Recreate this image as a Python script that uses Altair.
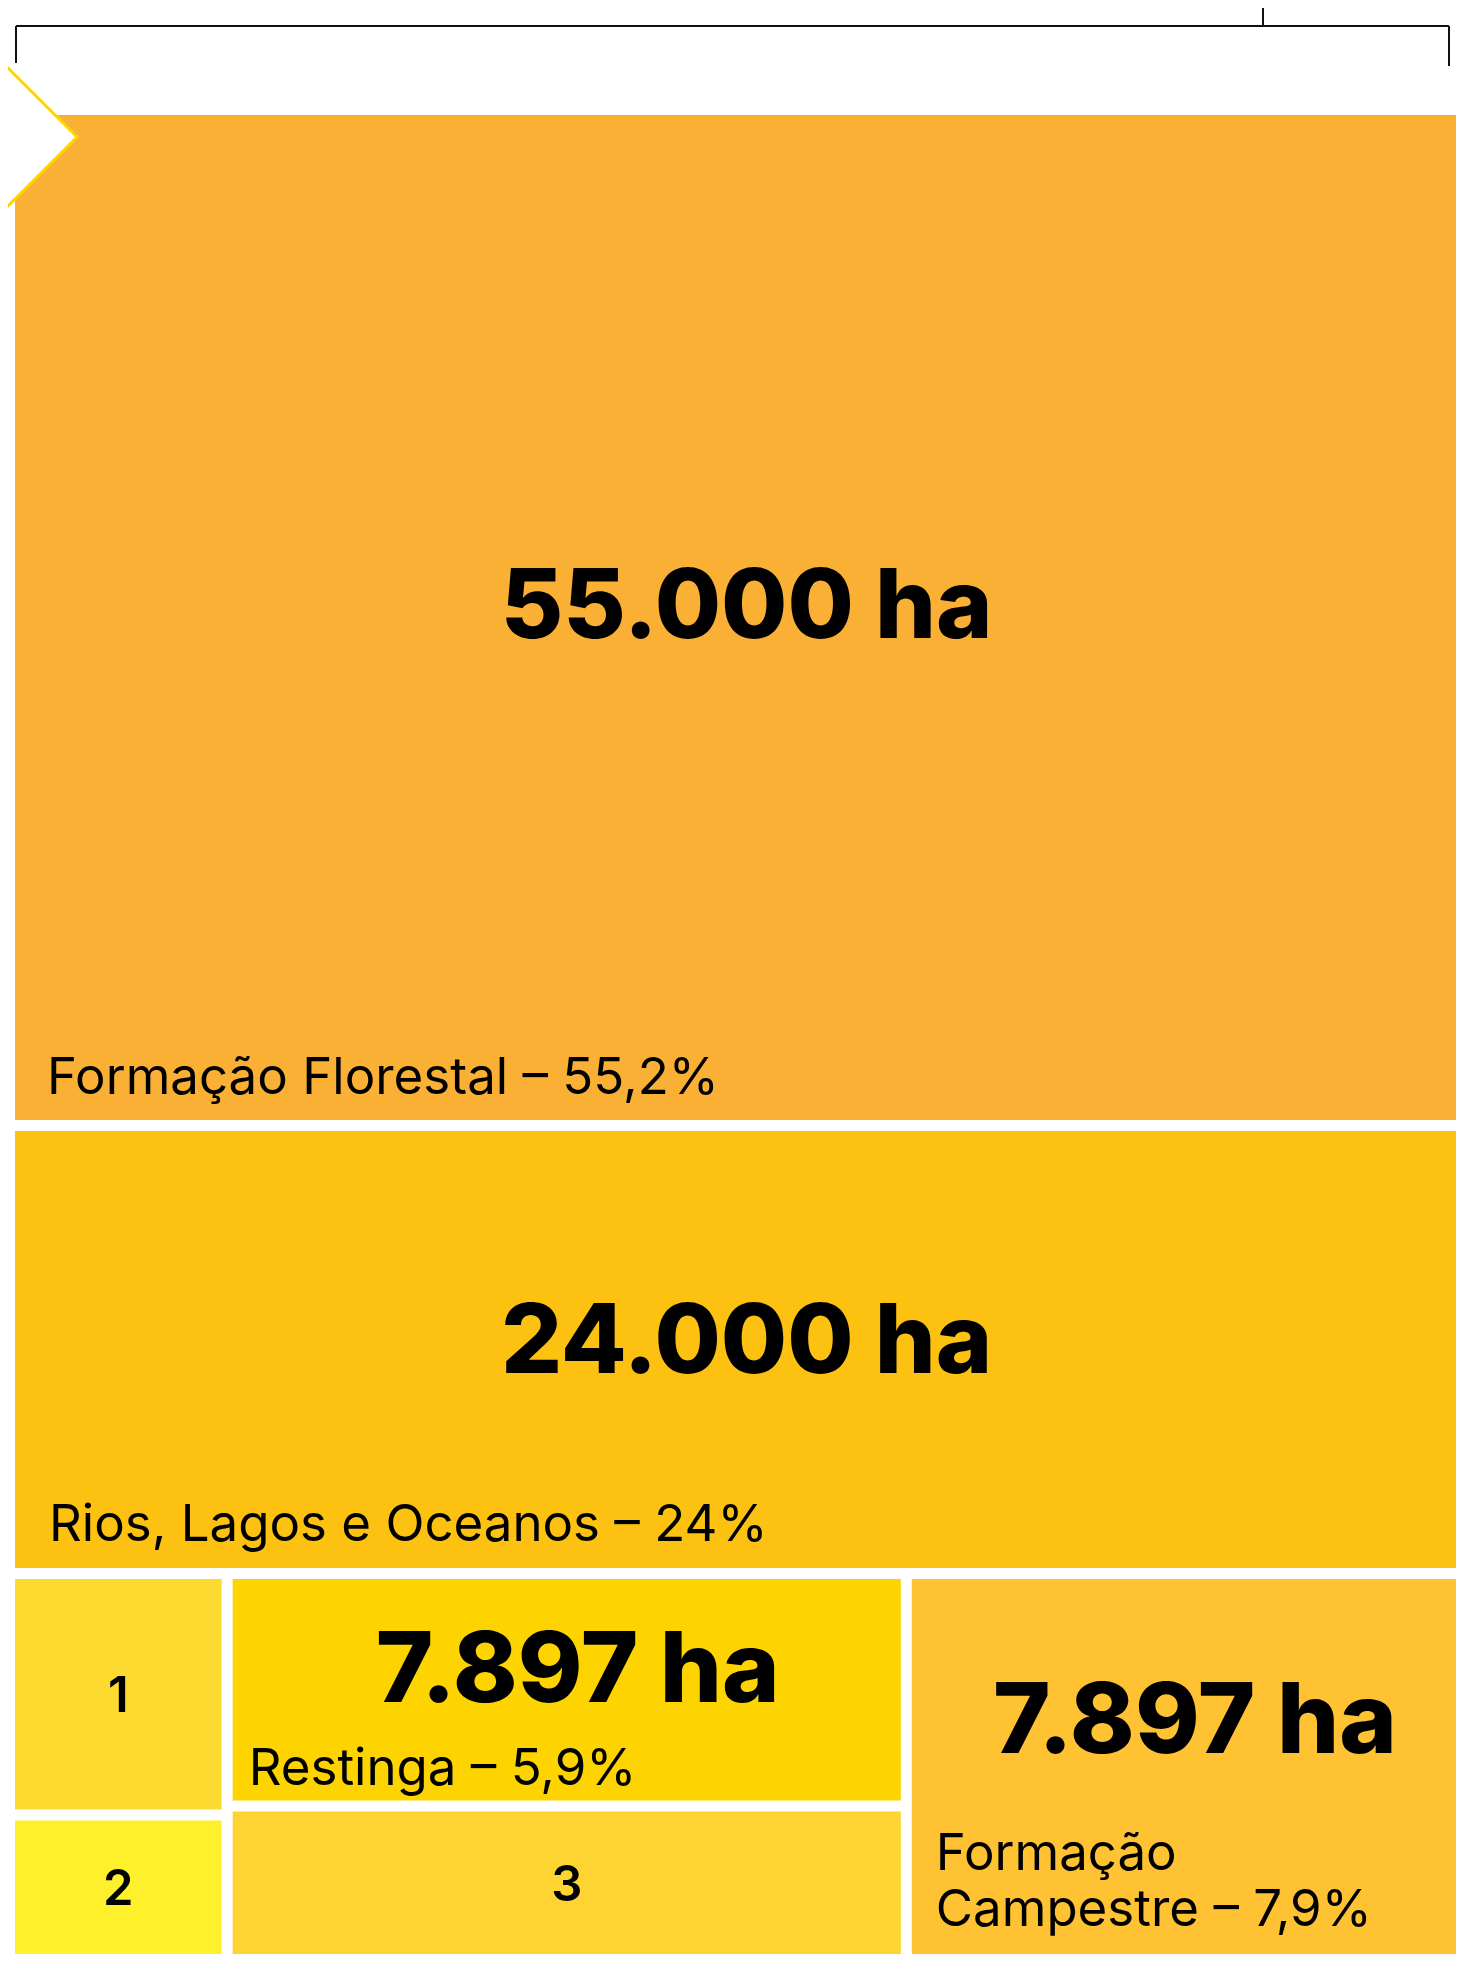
import altair as alt
import pandas as pd

# ---------------- data ----------------
categories = ["Formação Florestal", "Rios, Lagos e Oceanos", "1", "2", "Restinga", "3", "Formação Campestre"]
shares = [55.2, 24.0, 1.9, 1.1, 5.9, 3.8, 7.9]          # % of area (1, 2, 3)
area_labels = ["55.000 ha", "24.000 ha", "", "", "7.897 ha", "", "7.897 ha"]
name_labels = ["Formação Florestal – 55,2%", "Rios, Lagos e Oceanos – 24%", "", "", "Restinga – 5,9%", "",
               "Formação\nCampestre – 7,9%"]
number_labels = ["", "", "1", "2", "", "3", ""]
cell_colors = ["#FAB035", "#FDC112", "#FDDA30", "#FEF02A", "#FDD400", "#FDD432", "#FEC233"]

# hierarchy of the slice-and-dice treemap (indices into the lists above)
tree = [0, 1, [[2, 3], [4, 5], 6]]

# ---------------- layout ----------------
W, H = 1454, 1950
BOX = (7, 107, 1448, 1946)
GAP = 11


def node_value(n):
    return shares[n] if isinstance(n, int) else sum(node_value(c) for c in n)


def layout(node, x0, y0, x1, y1, vertical, out):
    if isinstance(node, int):
        out[node] = (x0, y0, x1, y1)
        return
    total = sum(node_value(c) for c in node)
    n = len(node)
    if vertical:
        avail = (y1 - y0) - GAP * (n - 1)
        pos = y0
        for c in node:
            h = avail * node_value(c) / total
            layout(c, x0, pos, x1, pos + h, not vertical, out)
            pos += h + GAP
    else:
        avail = (x1 - x0) - GAP * (n - 1)
        pos = x0
        for c in node:
            w = avail * node_value(c) / total
            layout(c, pos, y0, pos + w, y1, not vertical, out)
            pos += w + GAP


rects = {}
layout(tree, *BOX, True, rects)

# label placement (relative to each cell)
big_frac = {0: 0.52, 1: 0.554, 4: 0.556, 6: 0.464}
big_size = {0: 96, 1: 96, 4: 98, 6: 98}
name_pad = {0: (32, 26), 1: (34, 27), 4: (16, 15), 6: (24, 28)}
LINE_H = 56
BIG_DX = 11

rows = []
for i, cat in enumerate(categories):
    x0, y0, x1, y1 = rects[i]
    nl = name_labels[i].count("\n") + 1 if name_labels[i] else 1
    padl, padb = name_pad.get(i, (0, 0))
    rows.append(dict(
        cat=cat, share=shares[i], x0=x0, x1=x1, y0=y0, y1=y1,
        cx=(x0 + x1) / 2, cy=(y0 + y1) / 2,
        big=area_labels[i], bsize=big_size.get(i, 96),
        bx=(x0 + x1) / 2 + BIG_DX, by=y0 + big_frac.get(i, 0.5) * (y1 - y0),
        name=name_labels[i], nx=x0 + padl, ny=y1 - padb - (nl - 1) * LINE_H,
        num=number_labels[i], numy=(y0 + y1) / 2 + 18,
    ))
df = pd.DataFrame(rows)

xs = alt.Scale(domain=[0, W], range=[0, W], nice=False, zero=False)
ys = alt.Scale(domain=[0, H], range=[0, H], nice=False, zero=False)

base = alt.Chart(df)

cells = base.mark_rect(stroke=None).encode(
    x=alt.X("x0:Q", scale=xs, axis=None),
    x2="x1:Q",
    y=alt.Y("y0:Q", scale=ys, axis=None),
    y2="y1:Q",
    color=alt.Color("cat:N", scale=alt.Scale(domain=categories, range=cell_colors), legend=None),
)

big_text = base.transform_filter("datum.big != ''").mark_text(
    font="Inter", fontWeight=800, align="center", baseline="alphabetic", color="#000000"
).encode(
    x=alt.X("bx:Q", scale=xs, axis=None),
    y=alt.Y("by:Q", scale=ys, axis=None),
    size=alt.Size("bsize:Q", scale=None, legend=None),
    text="big:N",
)

name_text = base.transform_filter("datum.name != ''").mark_text(
    font="Inter", fontWeight=400, fontSize=51, align="left", baseline="alphabetic", color="#000000",
    lineBreak="\n", lineHeight=LINE_H,
).encode(
    x=alt.X("nx:Q", scale=xs, axis=None),
    y=alt.Y("ny:Q", scale=ys, axis=None),
    text="name:N",
)

num_text = base.transform_filter("datum.num != ''").mark_text(
    font="Inter", fontWeight=600, fontSize=49, align="center", baseline="alphabetic", color="#000000"
).encode(
    x=alt.X("cx:Q", scale=xs, axis=None),
    y=alt.Y("numy:Q", scale=ys, axis=None),
    text="num:N",
)

# decorations: bracket above the treemap and a marker arrow at the left
bx0, by0, bx1, by1 = BOX
bracket = pd.DataFrame([
    dict(x=bx0 + 1, y=by0 - 89, x2=bx1 - 7, y2=by0 - 89),
    dict(x=bx0 + 1, y=by0 - 89, x2=bx0 + 1, y2=by0 - 52),
    dict(x=bx1 - 7, y=by0 - 89, x2=bx1 - 7, y2=by0 - 49),
    dict(x=bx0 + 1248, y=0, x2=bx0 + 1248, y2=by0 - 89),
])
bracket_layer = alt.Chart(bracket).mark_rule(color="#111111", strokeWidth=2).encode(
    x=alt.X("x:Q", scale=xs, axis=None), x2="x2:Q",
    y=alt.Y("y:Q", scale=ys, axis=None), y2="y2:Q",
)

marker = pd.DataFrame([dict(x=bx0 - 15, y=by0 + 22)])
marker_layer = alt.Chart(marker).mark_point(
    shape="diamond", size=154 * 154, filled=True, fill="#FFFFFF", stroke="#FFD500", strokeWidth=3, opacity=1
).encode(
    x=alt.X("x:Q", scale=xs, axis=None),
    y=alt.Y("y:Q", scale=ys, axis=None),
)

chart = alt.layer(cells, marker_layer, bracket_layer, big_text, name_text, num_text).properties(
    width=W, height=H, padding=0, background="#FFFFFF",
    autosize=alt.AutoSizeParams(type="none"),
).configure_view(stroke=None)

chart.save("out.html", embed_options={"renderer": "svg", "actions": False})
